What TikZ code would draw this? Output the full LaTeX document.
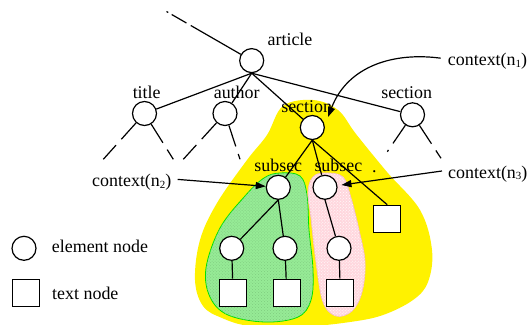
\documentclass[tikz,border=0pt]{standalone}
\usepackage{fontspec}
\setmainfont{Liberation Serif}
\newfontfamily\diagfont{Liberation Serif}
\usetikzlibrary{arrows.meta,patterns}
\definecolor{blobgreen}{RGB}{150,235,150}
\definecolor{blobgreenedge}{RGB}{0,225,0}
\definecolor{blobpink}{RGB}{255,215,222}
\definecolor{blobpinkedge}{RGB}{245,190,200}
\begin{document}
\begin{tikzpicture}[x=1bp,y=-1bp,
  elem/.style={circle,draw,fill=white,line width=1.2bp,minimum size=24bp,inner sep=0pt},
  txtnode/.style={rectangle,draw,fill=white,line width=1.2bp,minimum size=27bp,inner sep=0pt},
  lbl/.style={font=\diagfont\fontsize{18}{20}\selectfont,inner sep=0pt,anchor=base},
  lblw/.style={font=\diagfont\fontsize{18}{20}\selectfont,inner sep=0pt,anchor=base west},
  treeedge/.style={line width=1.2bp},
  leg/.style={line width=1.2bp,dash pattern=on 22bp off 8bp on 40bp},
  arr/.style={line width=1.2bp,-{Triangle[length=10bp,width=7bp]}}]
\useasboundingbox (0,0) rectangle (531,324);
\newcommand{\ctx}[1]{context(n{\fontsize{11}{11}\selectfont\raisebox{-1.5bp}{#1}})}

% blobs
\fill[yellow] plot[smooth cycle,tension=0.6] coordinates {
  (313,100) (338,110) (356,134) (387,172) (420,210) (432,250) (428,282)
  (413,300) (383,315) (350,322) (300,327) (250,326) (222,318) (203,306)
  (195,280) (200,240) (217,203) (247,160) (267,135) (283,106)};
\filldraw[fill=blobgreen,draw=blobgreenedge,line width=0.8bp] plot[smooth cycle,tension=0.6] coordinates {
  (280,173) (300,176) (307,195) (309,230) (313,270) (311,300) (298,317)
  (265,322) (228,315) (210,297) (206,268) (220,228) (245,196) (264,178)};
\fill[pattern=crosshatch dots,pattern color=green!60!black!50] plot[smooth cycle,tension=0.6] coordinates {
  (280,173) (300,176) (307,195) (309,230) (313,270) (311,300) (298,317)
  (265,322) (228,315) (210,297) (206,268) (220,228) (245,196) (264,178)};
\filldraw[fill=blobpink,draw=blobpinkedge,line width=0.8bp] plot[smooth cycle,tension=0.6] coordinates {
  (325,173) (343,177) (351,198) (359,230) (365,262) (362,292) (352,311)
  (336,316) (323,302) (316,262) (311,218) (308,192) (313,177)};
\fill[pattern=crosshatch dots,pattern color=white] plot[smooth cycle,tension=0.6] coordinates {
  (325,173) (343,177) (351,198) (359,230) (365,262) (362,292) (352,311)
  (336,316) (323,302) (316,262) (311,218) (308,192) (313,177)};

% nodes
\node[elem] (article) at (251.7,60.6) {};
\node[elem] (title) at (144.5,113.5) {};
\node[elem] (author) at (225,113.5) {};
\node[elem] (sec) at (312.3,127.5) {};
\node[elem] (secR) at (412.5,114.8) {};
\node[elem] (s1) at (278.3,187.3) {};
\node[elem] (s2) at (325,187.3) {};
\node[txtnode] (tR) at (387.2,218.8) {};
\node[elem] (c1) at (231.7,248.3) {};
\node[elem] (c2) at (285,248.3) {};
\node[elem] (c3) at (339,248.3) {};
\node[txtnode] (t1) at (233,292.7) {};
\node[txtnode] (t2) at (286.7,292.7) {};
\node[txtnode] (t3) at (340.3,292.7) {};

% legend
\node[elem] (legc) at (24,248.3) {};
\node[txtnode] (legs) at (25.7,292.7) {};
\node[lblw] (legct) at (51.7,252.7) {element node};
\node[lblw] (legst) at (52,299.3) {text node};

% labels
\node[lbl] (articlel) at (290,45) {article};
\node[lbl] (titlel) at (146.7,98.3) {title};
\node[lbl] (authorl) at (236.7,98.3) {author};
\node[lbl] (secl) at (306.7,112.7) {section};
\node[lbl] (secRl) at (406.7,98.3) {section};
\node[lbl] (s1l) at (278.3,171.7) {subsec};
\node[lbl] (s2l) at (338.4,171.7) {subsec};
\node[lbl] (dotl) at (374.3,172) {.};
\node[lblw] (n1l) at (447.7,65.5) {\ctx{1}};
\node[lblw] (n2l) at (92,186.7) {\ctx{2}};
\node[lblw] (n3l) at (448,178.3) {\ctx{3}};

% tree edges
\draw[treeedge] (article.south) -- (title);
\draw[treeedge] (article.south) -- (author);
\draw[treeedge] (article.south) -- (sec);
\draw[treeedge] (article.south) -- (secR);
\draw[treeedge] (sec.south) -- (s1);
\draw[treeedge] (sec.south) -- (s2);
\draw[treeedge] (sec.south) -- (tR.north);
\draw[treeedge] (s1.south) -- (c1);
\draw[treeedge] (s1.south) -- (c2);
\draw[treeedge] (s2.south) -- (c3);
\draw[treeedge] (c1) -- (t1);
\draw[treeedge] (c2) -- (t2);
\draw[treeedge] (c3) -- (t3);

% omitted parts
\coordinate (top) at (166.5,11.5);
\coordinate (tiL) at (103.3,159.3);
\coordinate (tiR) at (173.3,159.3);
\coordinate (auL) at (183.3,159.3);
\coordinate (auR) at (240,159.3);
\coordinate (seL) at (387.3,151.7);
\coordinate (seR) at (441,158.3);
\draw[line width=1.2bp,dash pattern=on 2bp off 4bp on 17bp off 5bp on 200bp] (top) -- (article);
\draw[leg] (title) -- (tiL);
\draw[leg] (title) -- (tiR);
\draw[leg] (author) -- (auL);
\draw[leg] (author) -- (auR);
\draw[leg] (secR) -- (seL);
\draw[leg] (secR) -- (seR);

% context arrows
\coordinate (n1tip) at (328,117);
\draw[arr] ([xshift=-7bp,yshift=3bp]n1l.west) .. controls (395,52) and (348,65) .. (n1tip);
\draw[arr] ([xshift=6bp,yshift=3bp]n2l.east) -- (s1);
\draw[arr,shorten >=4bp] ([xshift=-6bp,yshift=3bp]n3l.west) -- (s2);
\end{tikzpicture}
\end{document}
